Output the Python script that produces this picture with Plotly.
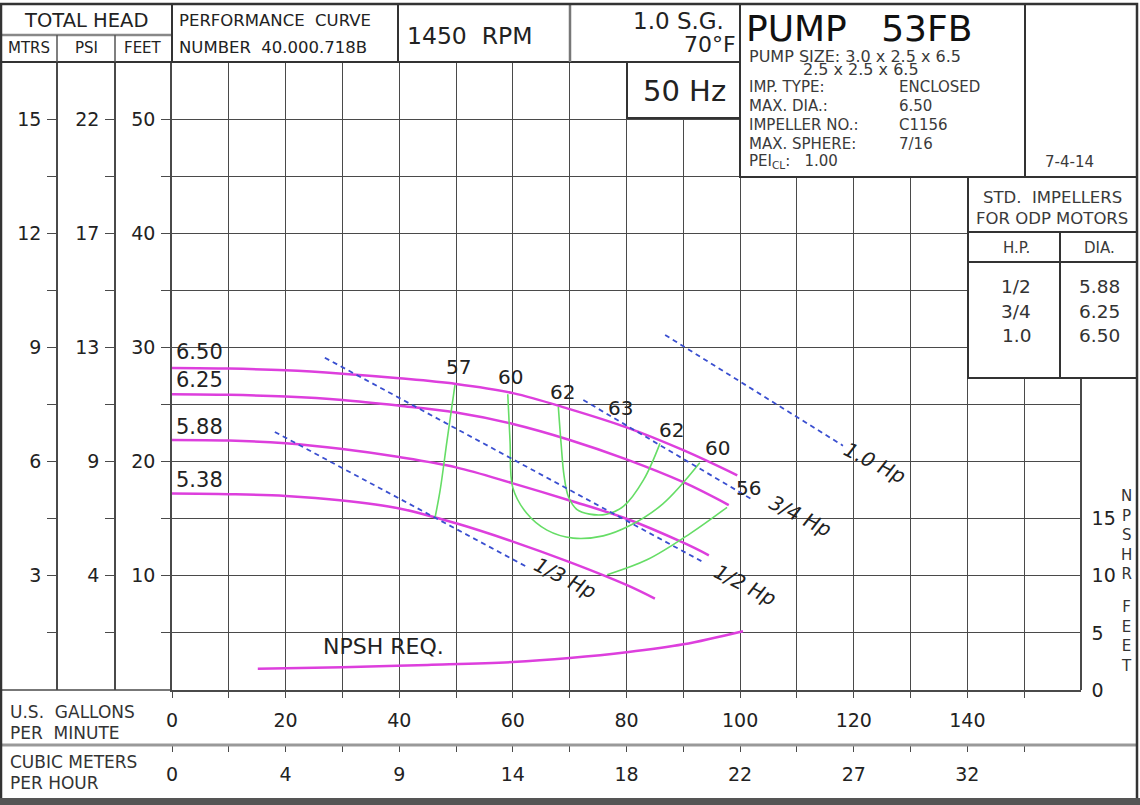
import plotly.graph_objects as go

W, H = 1140, 805
FONT = "DejaVu Sans"
INK = "#222222"
GRID = "#4a4a4a"


def px(x):
    return x / W


def py(y):
    return 1 - y / H


# ---------------- data ----------------
gpm_ticks = list(range(0, 160, 10))
gpm_labels = ["0", "", "20", "", "40", "", "60", "", "80", "", "100", "", "120", "", "140", ""]
m3h_labels = ["0", "", "4", "", "9", "", "14", "", "18", "", "22", "", "27", "", "32", ""]

head_ticks = [5, 10, 15, 20, 25, 30, 35, 40, 45, 50]
feet_labels = ["", "10", "", "20", "", "30", "", "40", "", "50"]
psi_labels = ["", "4", "", "9", "", "13", "", "17", "", "22"]
mtrs_labels = ["", "3", "", "6", "", "9", "", "12", "", "15"]
npsh_ticks = [0, 5, 10, 15]
npsh_labels = ["0", "5", "10", "15"]

# head curves (GPM, feet) per impeller diameter
imp_650_gpm = [0, 10, 20, 30, 40, 50, 60, 70, 80, 90, 99.5]
imp_650_ft = [28.2, 28.15, 28.0, 27.7, 27.3, 26.8, 26.0, 24.6, 23.0, 21.0, 18.8]
imp_625_gpm = [0, 10, 20, 30, 40, 50, 60, 70, 80, 90, 98]
imp_625_ft = [25.9, 25.85, 25.7, 25.4, 24.9, 24.3, 23.3, 21.9, 20.2, 18.2, 16.2]
imp_588_gpm = [0, 10, 20, 30, 40, 50, 60, 70, 80, 90, 94.5]
imp_588_ft = [21.9, 21.85, 21.6, 21.1, 20.4, 19.5, 18.1, 16.6, 15.0, 12.9, 11.8]
imp_538_gpm = [0, 10, 20, 30, 40, 50, 60, 70, 80, 85]
imp_538_ft = [17.2, 17.15, 17.0, 16.6, 15.9, 14.6, 13.0, 11.2, 9.2, 8.0]

# efficiency contours
eff57_gpm = [49.8, 48.4, 47.2, 46.3]
eff57_ft = [26.7, 21.8, 17.5, 15.1]
eff60_gpm = [59.1, 59.5, 60.0, 62.4, 66.0, 70.6, 75.9, 80.6, 86.4, 92.9]
eff60_ft = [25.9, 21.8, 17.7, 15.5, 14.0, 13.3, 13.5, 14.4, 16.3, 19.9]
eff62_gpm = [68.0, 68.5, 69.0, 69.8, 71.3, 73.5, 76.5, 79.5, 83.0, 85.9]
eff62_ft = [24.8, 21.5, 18.8, 16.9, 15.8, 15.4, 15.4, 16.1, 18.4, 21.6]
eff56_gpm = [76.6, 83.6, 91.2, 97.7]
eff56_ft = [10.1, 11.4, 13.7, 16.0]

# horsepower lines
hp13_gpm, hp13_ft = [18.1, 62.4], [22.6, 10.8]
hp12_gpm, hp12_ft = [26.9, 93.5], [29.1, 11.2]
hp34_gpm, hp34_ft = [72.4, 102.4], [25.4, 16.6]
hp10_gpm, hp10_ft = [86.8, 118.1], [31.1, 21.4]

# NPSH required
npsh_gpm = [15.1, 30, 45, 60, 70, 80, 90, 100.5]
npsh_ft = [1.87, 2.0, 2.2, 2.45, 2.8, 3.3, 4.0, 5.15]

# ---------------- figure ----------------
fig = go.Figure()

MAG = "#dd3fdd"
GRN = "#66dd66"
BLU = "#3a4fd0"

for gx, gy in [(imp_650_gpm, imp_650_ft), (imp_625_gpm, imp_625_ft),
               (imp_588_gpm, imp_588_ft), (imp_538_gpm, imp_538_ft)]:
    fig.add_trace(go.Scatter(x=gx, y=gy, mode="lines", line=dict(color=MAG, width=2.5, shape="spline"),
                             showlegend=False, hoverinfo="skip"))

for gx, gy in [(eff57_gpm, eff57_ft), (eff60_gpm, eff60_ft), (eff62_gpm, eff62_ft), (eff56_gpm, eff56_ft)]:
    fig.add_trace(go.Scatter(x=gx, y=gy, mode="lines", line=dict(color=GRN, width=1.6, shape="spline"),
                             showlegend=False, hoverinfo="skip"))

for gx, gy in [(hp13_gpm, hp13_ft), (hp12_gpm, hp12_ft), (hp34_gpm, hp34_ft), (hp10_gpm, hp10_ft)]:
    fig.add_trace(go.Scatter(x=gx, y=gy, mode="lines", line=dict(color=BLU, width=1.8, dash="5px,4px"),
                             showlegend=False, hoverinfo="skip"))

fig.add_trace(go.Scatter(x=npsh_gpm, y=npsh_ft, mode="lines", yaxis="y4",
                         line=dict(color=MAG, width=2.5, shape="spline"), showlegend=False, hoverinfo="skip"))

# dummy traces so the extra axes are drawn
fig.add_trace(go.Scatter(x=[None], y=[None], yaxis="y2", showlegend=False, hoverinfo="skip"))
fig.add_trace(go.Scatter(x=[None], y=[None], yaxis="y3", showlegend=False, hoverinfo="skip"))
fig.add_trace(go.Scatter(x=[None], y=[None], xaxis="x2", showlegend=False, hoverinfo="skip"))

tickfont = dict(family=FONT, size=19, color=INK)
XD = [px(172), px(1081)]
YD = [py(690), py(62)]

fig.update_layout(
    width=W, height=H, margin=dict(l=0, r=0, t=0, b=0, pad=0), autosize=False,
    paper_bgcolor="white", plot_bgcolor="white",
    font=dict(family=FONT, color=INK),
    xaxis=dict(domain=XD, range=[0, 160], tickmode="array", tickvals=gpm_ticks, ticktext=gpm_labels,
               ticks="outside", ticklen=6, tickcolor=GRID, tickfont=tickfont, ticklabelstandoff=6,
               showgrid=True, gridcolor=GRID, gridwidth=1, zeroline=False, automargin=False,
               showline=True, linecolor=GRID, linewidth=1.5, anchor="y"),
    xaxis2=dict(overlaying="x", anchor="free", position=py(745), side="bottom", range=[0, 160],
                tickmode="array", tickvals=gpm_ticks, ticktext=m3h_labels, ticks="outside", ticklen=6,
                tickcolor=GRID, tickfont=tickfont, ticklabelstandoff=6, showgrid=False, zeroline=False,
                showline=False, automargin=False),
    yaxis=dict(domain=YD, range=[0, 55], tickmode="array", tickvals=head_ticks, ticktext=feet_labels,
               ticks="outside", ticklen=9, tickcolor=GRID, tickfont=tickfont, ticklabelstandoff=2,
               showgrid=True, gridcolor=GRID, gridwidth=1, zeroline=False, automargin=False,
               showline=True, linecolor=GRID, linewidth=1.5, anchor="x"),
    yaxis2=dict(overlaying="y", anchor="free", position=px(115), side="left", range=[0, 55],
                tickmode="array", tickvals=head_ticks, ticktext=psi_labels, ticks="outside", ticklen=9,
                tickcolor=GRID, tickfont=tickfont, ticklabelstandoff=2, showgrid=False, zeroline=False,
                showline=True, linecolor=GRID, linewidth=1.5, automargin=False),
    yaxis3=dict(overlaying="y", anchor="free", position=px(57), side="left", range=[0, 55],
                tickmode="array", tickvals=head_ticks, ticktext=mtrs_labels, ticks="outside", ticklen=9,
                tickcolor=GRID, tickfont=tickfont, ticklabelstandoff=2, showgrid=False, zeroline=False,
                showline=True, linecolor=GRID, linewidth=1.5, automargin=False),
    yaxis4=dict(overlaying="y", anchor="free", position=px(1081), side="right", range=[0, 55],
                tickmode="array", tickvals=npsh_ticks, ticktext=npsh_labels, ticks="",
                tickfont=tickfont, ticklabelstandoff=6, showgrid=False, zeroline=False,
                showline=True, linecolor=GRID, linewidth=1.5, automargin=False),
)

shapes = []
DARK = "#333333"


def hline(y, x0, x1, color=DARK, width=2):
    shapes.append(dict(type="line", xref="paper", yref="paper", x0=px(x0), x1=px(x1), y0=py(y), y1=py(y),
                       line=dict(color=color, width=width), layer="above"))


def vline(x, y0, y1, color=DARK, width=2):
    shapes.append(dict(type="line", xref="paper", yref="paper", x0=px(x), x1=px(x), y0=py(y0), y1=py(y1),
                       line=dict(color=color, width=width), layer="above"))


def box(x0, y0, x1, y1, width=2, color=DARK):
    shapes.append(dict(type="rect", xref="paper", yref="paper", x0=px(x0), x1=px(x1), y0=py(y1), y1=py(y0),
                       fillcolor="white", line=dict(color=color, width=width), layer="above"))


# header / info boxes covering the grid
box(627, 62, 740, 118)
box(740, 4, 1137, 177)
vline(1025, 4, 177)
box(968, 177, 1137, 378)
hline(232, 968, 1137)
hline(262, 968, 1137)
vline(1060, 232, 378)

# header row lines
hline(62, 0, 740)
hline(35, 0, 172, color="#888888", width=2.5)
vline(57, 35, 62, color="#555555", width=1.5)
vline(115, 35, 62, color="#555555", width=1.5)
vline(172, 4, 62)
vline(398, 4, 62)
vline(570, 4, 62, color="#777777", width=2.5)

# bottom section lines
hline(690, 0, 172, color=GRID, width=1.5)
hline(745, 0, 1137, color="#999999", width=3)

# outer frame
shapes.append(dict(type="rect", xref="paper", yref="paper", x0=px(1), x1=px(1137), y0=py(800), y1=py(4),
                   line=dict(color=DARK, width=2.5), layer="above"))
shapes.append(dict(type="rect", xref="paper", yref="paper", x0=0, x1=1, y0=0, y1=py(798),
                   fillcolor="#555555", line=dict(width=0), layer="above"))

fig.update_layout(shapes=shapes)

anns = []


def ann(x, y, text, size, xanchor="center", color=INK, **kw):
    anns.append(dict(x=px(x), y=py(y), xref="paper", yref="paper", text=text, showarrow=False,
                     font=dict(family=FONT, size=size, color=color), xanchor=xanchor, yanchor="middle",
                     borderpad=0, **kw))


def dann(x, y, text, size, xanchor="center", angle=0, yref="y"):
    anns.append(dict(x=x, y=y, xref="x", yref=yref, text=text, showarrow=False, textangle=angle,
                     font=dict(family=FONT, size=size, color=INK), xanchor=xanchor, yanchor="middle",
                     borderpad=0))


# header texts
ann(86, 21, "TOTAL HEAD", 19.5)
ann(29, 48, "MTRS", 15)
ann(86, 48, "PSI", 15)
ann(143, 48, "FEET", 15)
ann(178, 21, "PERFORMANCE  CURVE", 16.5, xanchor="left")
ann(178, 48, "NUMBER  40.000.718B", 16.5, xanchor="left")
ann(406, 36, "1450  RPM", 23.5, xanchor="left")
ann(725, 21, "1.0 S.G.", 23, xanchor="right")
ann(737, 45, "70°F", 22, xanchor="right")
ann(684, 91, "50 Hz", 29)

# info box
ann(745, 28, "PUMP   53FB", 36, xanchor="left", color="#111111")
INFO = "#3a3a3a"
ann(748, 57, "PUMP SIZE: 3.0 x 2.5 x 6.5", 16, xanchor="left", color=INFO)
ann(802, 70, "2.5 x 2.5 x 6.5", 16, xanchor="left", color=INFO)
rows = [("IMP. TYPE:", "ENCLOSED", 87), ("MAX. DIA.:", "6.50", 106), ("IMPELLER NO.:", "C1156", 125),
        ("MAX. SPHERE:", "7/16", 144)]
for lab, val, yy in rows:
    ann(748, yy, lab, 15, xanchor="left", color=INFO)
    ann(898, yy, val, 15, xanchor="left", color=INFO)
ann(748, 162, "PEI<sub>CL</sub>:   1.00", 15, xanchor="left", color=INFO)
ann(1069, 162, "7-4-14", 15, color=INFO)

# impeller table
ann(1052, 198, "STD.  IMPELLERS", 16.5, color=INFO)
ann(1052, 218, "FOR ODP MOTORS", 16.5, color=INFO)
ann(1016, 248, "H.P.", 15, color=INFO)
ann(1099, 248, "DIA.", 15, color=INFO)
for hp_txt, dia_txt, yy in [("1/2", "5.88", 287), ("3/4", "6.25", 311), ("1.0", "6.50", 335)]:
    ann(1016, yy, hp_txt, 18.5, color="#333333")
    ann(1099, yy, dia_txt, 18.5, color="#333333")

# bottom labels
ann(9, 712, "U.S.  GALLONS", 17, xanchor="left", color="#333333")
ann(9, 733, "PER  MINUTE", 17, xanchor="left", color="#333333")
ann(9, 762, "CUBIC METERS", 17, xanchor="left", color="#333333")
ann(9, 783, "PER HOUR", 17, xanchor="left", color="#333333")

# NPSH axis title (stacked letters)
ann(1126, 535, "N<br>P<br>S<br>H<br>R", 15, color="#333333")
ann(1126, 636, "F<br>E<br>E<br>T", 15, color="#333333")

# curve labels (data coordinates)
dann(0.5, 29.6, "6.50", 21, xanchor="left")
dann(0.5, 27.15, "6.25", 21, xanchor="left")
dann(0.5, 23.0, "5.88", 21, xanchor="left")
dann(0.5, 18.4, "5.38", 21, xanchor="left")
for xx, yy, t in [(50.4, 28.3, "57"), (59.5, 27.4, "60"), (68.8, 26.1, "62"), (78.9, 24.7, "63"),
                  (88.0, 22.8, "62"), (96.1, 21.2, "60"), (101.4, 17.7, "56")]:
    dann(xx, yy, t, 20)
dann(69.2, 9.8, "<i>1/3 Hp</i>", 20, angle=27)
dann(100.9, 9.2, "<i>1/2 Hp</i>", 20, angle=27)
dann(110.6, 15.2, "<i>3/4 Hp</i>", 20, angle=27)
dann(123.8, 19.9, "<i>1.0 Hp</i>", 20, angle=27)
dann(37.3, 3.8, "NPSH REQ.", 22, yref="y4")

fig.update_layout(annotations=anns)

fig.write_html(
    "out.html",
    config={"displayModeBar": False},
    post_script="document.body.style.margin='0';document.body.style.padding='0';"
                "document.body.style.overflow='hidden';document.documentElement.style.overflow='hidden';",
)
